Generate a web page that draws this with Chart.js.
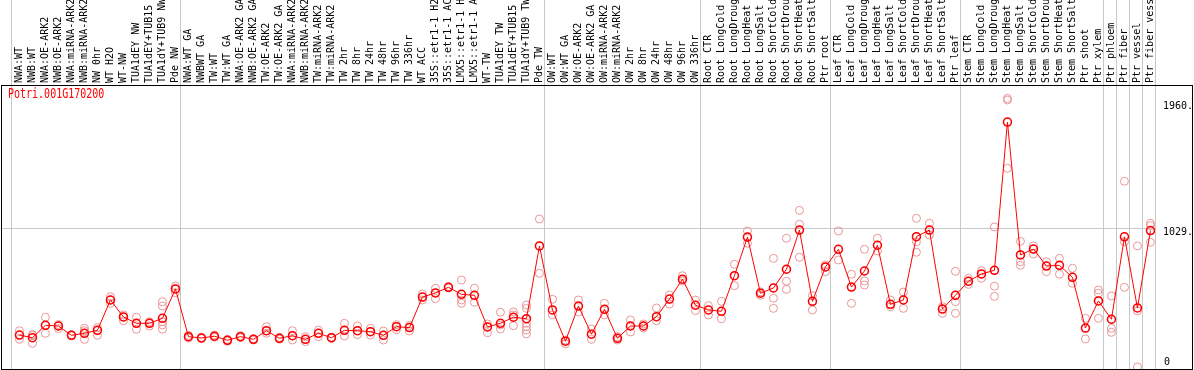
<!DOCTYPE html>
<html>
<head>
<meta charset="utf-8">
<script src="https://cdn.jsdelivr.net/npm/chart.js@4/dist/chart.umd.min.js"></script>
<style>
  body { margin: 0; background: #fff; }
  #wrap { width: 1194px; height: 370px; }
</style>
</head>
<body>
<div id="wrap"><canvas id="expr" width="1194" height="370"></canvas></div>
<script>
// sample names (top axis)
const labels = [
    "NWA:WT", "NWB:WT", "NWA:OE-ARK2", "NWB:OE-ARK2", "NWA:miRNA-ARK2", "NWB:miRNA-ARK2",
    "NW 0hr", "WT H2O", "WT-NW", "TUA1dEY NW", "TUA1dEY+TUB15 NW", "TUA1dY+TUB9 NW", "Pde NW",
    "NWA:WT GA", "NWBWT GA", "TW:WT", "TW:WT GA", "NWA:OE-ARK2 GA", "NWB:OE-ARK2 GA",
    "TW:OE-ARK2", "TW:OE-ARK2 GA", "NWA:miRNA-ARK2", "NWB:miRNA-ARK2", "TW:miRNA-ARK2", "TW:miRNA-ARK2",
    "TW 2hr", "TW 8hr", "TW 24hr", "TW 48hr", "TW 96hr", "TW 336hr", "WT ACC",
    "35S::etr1-1 H2O", "35S::etr1-1 ACC", "LMX5::etr1-1 H2O", "LMX5::etr1-1 ACC",
    "WT-TW", "TUA1dEY TW", "TUA1dEY+TUB15 TW", "TUA1dY+TUB9 TW", "Pde TW",
    "OW:WT", "OW:WT GA", "OW:OE-ARK2", "OW:OE-ARK2 GA", "OW:miRNA-ARK2", "OW:miRNA-ARK2",
    "OW 2hr", "OW 8hr", "OW 24hr", "OW 48hr", "OW 96hr", "OW 336hr",
    "Root CTR", "Root LongCold", "Root LongDrought", "Root LongHeat", "Root LongSalt",
    "Root ShortCold", "Root ShortDrought", "Root ShortHeat", "Root ShortSalt", "Ptr root",
    "Leaf CTR", "Leaf LongCold", "Leaf LongDrought", "Leaf LongHeat", "Leaf LongSalt",
    "Leaf ShortCold", "Leaf ShortDrought", "Leaf ShortHeat", "Leaf ShortSalt", "Ptr leaf",
    "Stem CTR", "Stem LongCold", "Stem LongDrought", "Stem LongHeat", "Stem LongSalt",
    "Stem ShortCold", "Stem ShortDrought", "Stem ShortHeat", "Stem ShortSalt", "Ptr shoot", "Ptr xylem",
    "Ptr phloem", "Ptr fiber", "Ptr vessel", "Ptr fiber vessel"
];

// mean expression per sample
const means = [
    237, 217, 309, 304, 235, 250, 272, 497, 371, 324, 324, 361, 579,
    225, 215, 228, 198, 225, 205, 269, 213, 232, 205, 250, 217, 272, 269, 262, 235, 299, 292,
    519, 549, 591, 539, 532, 297, 324, 369, 358, 898,
    423, 191, 452, 243, 428, 213, 304, 304, 373, 504, 651, 458,
    423, 413, 677, 964, 547, 586, 725, 1016, 487, 742,
    873, 593, 712, 903, 465, 497, 967, 1016, 430, 532,
    636, 690, 717, 1817, 831, 875, 749, 754, 665, 289, 490,
    354, 966, 438, 1012
];

// individual replicates per sample
const reps = [
    [269, 237, 205], [176, 240, 235], [369, 309, 250], [315, 304, 285], [240, 232, 235],
    [287, 269, 250, 205], [292, 272, 235], [521, 497, 472], [386, 371, 343], [369, 324, 280],
    [336, 324, 304], [484, 452, 361, 336, 312, 280], [601, 579, 551],
    [235, 225, 215], [220, 215, 210], [237, 228, 220], [205, 198, 191], [232, 225, 218],
    [210, 205, 200], [299, 269, 250], [220, 213, 206], [269, 232, 200], [225, 205, 188],
    [274, 250, 225], [222, 217, 212], [324, 272, 230], [304, 269, 240], [287, 262, 237],
    [267, 235, 200], [314, 299, 277], [309, 292, 267], [541, 519, 497], [584, 549, 507],
    [596, 591, 586], [645, 539, 497, 472], [584, 532, 480], [319, 297, 254], [406, 312, 282],
    [408, 386, 369, 306], [460, 435, 358, 324, 299, 274, 245], [1098, 898, 695],
    [502, 423, 386], [200, 191, 171], [497, 452, 408], [282, 243, 205], [472, 428, 386],
    [225, 213, 200], [349, 304, 260], [319, 304, 289], [438, 373, 343], [534, 504, 467],
    [677, 651, 638], [497, 458, 418],
    [455, 423, 386], [487, 413, 358], [762, 677, 603], [1009, 964, 918], [558, 547, 532],
    [806, 586, 510, 435], [955, 725, 636, 576], [1162, 1059, 1016, 814], [529, 487, 423],
    [757, 742, 707],
    [1009, 873, 794], [688, 593, 472], [873, 712, 638, 608], [955, 903, 860], [497, 465, 447],
    [556, 497, 435], [1103, 967, 929, 851], [1066, 1016, 979], [447, 430, 398],
    [710, 532, 484, 398],
    [658, 636, 613], [714, 690, 658], [1039, 717, 599, 524], [1993, 1981, 1817, 1474],
    [932, 831, 781, 754], [898, 875, 838], [781, 749, 707], [806, 754, 688], [732, 665, 621],
    [361, 289, 208], [571, 547, 490, 361],
    [527, 354, 287, 257], [1378, 967, 929, 591], [898, 416, 0], [1066, 1048, 1011, 925]
];

// group boundaries (index of first sample in group)
const separators = [0, 13, 41, 53, 63, 73, 84, 85, 86, 87, 88];
const yTicks = [0, 1029, 1960];
const geneId = "Potri.001G170200";

const FONT = { family: "'DejaVu Sans Mono', 'Liberation Mono', monospace", size: 10 };
const SEP_SHIFT = -0.65;

const decor = {
    id: 'decor',
    beforeDatasetsDraw(chart) {
        const { ctx, chartArea, scales } = chart;
        ctx.save();
        ctx.lineWidth = 1;
        ctx.strokeStyle = '#c8c8c8';
        separators.forEach(k => {
            const px = Math.round(scales.x.getPixelForValue(k + SEP_SHIFT)) + 0.5;
            ctx.beginPath();
            ctx.moveTo(px, 0);
            ctx.lineTo(px, chartArea.bottom);
            ctx.stroke();
        });
        ctx.strokeStyle = '#000';
        ctx.strokeRect(chartArea.left - 0.5, chartArea.top + 0.5,
            scales.y.right - chartArea.left + 1, chartArea.bottom - chartArea.top);
        ctx.restore();
    },
    afterDraw(chart) {
        const { ctx, chartArea, scales } = chart;
        ctx.save();
        ctx.font = FONT.size + 'px ' + FONT.family;
        ctx.textBaseline = 'top';
        ctx.fillStyle = '#ff0000';
        // gene id uses a taller face than the tick labels
        ctx.translate(chartArea.left + 6, chartArea.top + 2);
        ctx.scale(1, 1.4);
        ctx.fillText(geneId, 0, 0);
        ctx.restore();
        ctx.save();
        ctx.font = FONT.size + 'px ' + FONT.family;
        // zero label sits just above the bottom edge
        ctx.fillStyle = '#000';
        ctx.textBaseline = 'bottom';
        ctx.fillText('0', scales.y.left + 9, chartArea.bottom - 2);
        ctx.restore();
    }
};

const repPoints = reps.flatMap((r, i) => r.map(v => ({ x: i, y: v })));
const meanPoints = means.map((v, i) => ({ x: i, y: v }));

new Chart(document.getElementById('expr'), {
    type: 'scatter',
    data: {
        datasets: [
            {
                label: 'mean',
                data: meanPoints,
                showLine: true,
                borderColor: '#ff0000',
                borderWidth: 1,
                pointRadius: 4,
                pointBorderWidth: 1.5,
                pointBorderColor: '#ff0000',
                pointBackgroundColor: 'rgba(0,0,0,0)',
                order: 0
            },
            {
                label: 'replicates',
                data: repPoints,
                showLine: false,
                pointRadius: 4,
                pointBorderWidth: 1,
                pointBorderColor: '#e99595',
                pointBackgroundColor: 'rgba(0,0,0,0)',
                order: 1
            }
        ]
    },
    options: {
        responsive: false,
        animation: false,
        layout: { autoPadding: false, padding: { left: 2, right: 2, top: 0, bottom: 1 } },
        plugins: {
            legend: { display: false },
            tooltip: { enabled: false }
        },
        scales: {
            x: {
                type: 'linear',
                position: 'top',
                min: -1.342,
                max: 87.35,
                afterBuildTicks: s => { s.ticks = labels.map((l, i) => ({ value: i })); },
                afterFit: s => {
                    s.height = 85;
                    s.paddingLeft = 0;
                    s.paddingRight = 0;
                },
                grid: { display: false, drawTicks: false },
                border: { display: false },
                ticks: {
                    autoSkip: false,
                    minRotation: 90,
                    maxRotation: 90,
                    padding: 2,
                    labelOffset: 11.5,
                    color: '#000',
                    font: FONT,
                    callback: v => labels[v]
                }
            },
            y: {
                type: 'linear',
                position: 'right',
                min: -15,
                max: 2092,
                afterBuildTicks: s => { s.ticks = yTicks.map(v => ({ value: v })); },
                afterFit: s => {
                    s.width = 37;
                    s.paddingTop = 0;
                    s.paddingBottom = 0;
                },
                border: { display: false },
                grid: {
                    drawTicks: false,
                    color: c => (c.tick && c.tick.value === 1029) ? '#c8c8c8' : 'rgba(0,0,0,0)'
                },
                ticks: {
                    padding: 8,
                    labelOffset: 4,
                    color: '#000',
                    font: FONT,
                    callback: v => v === 0 ? '' : v + '.'
                }
            }
        }
    },
    plugins: [decor]
});
</script>
</body>
</html>
